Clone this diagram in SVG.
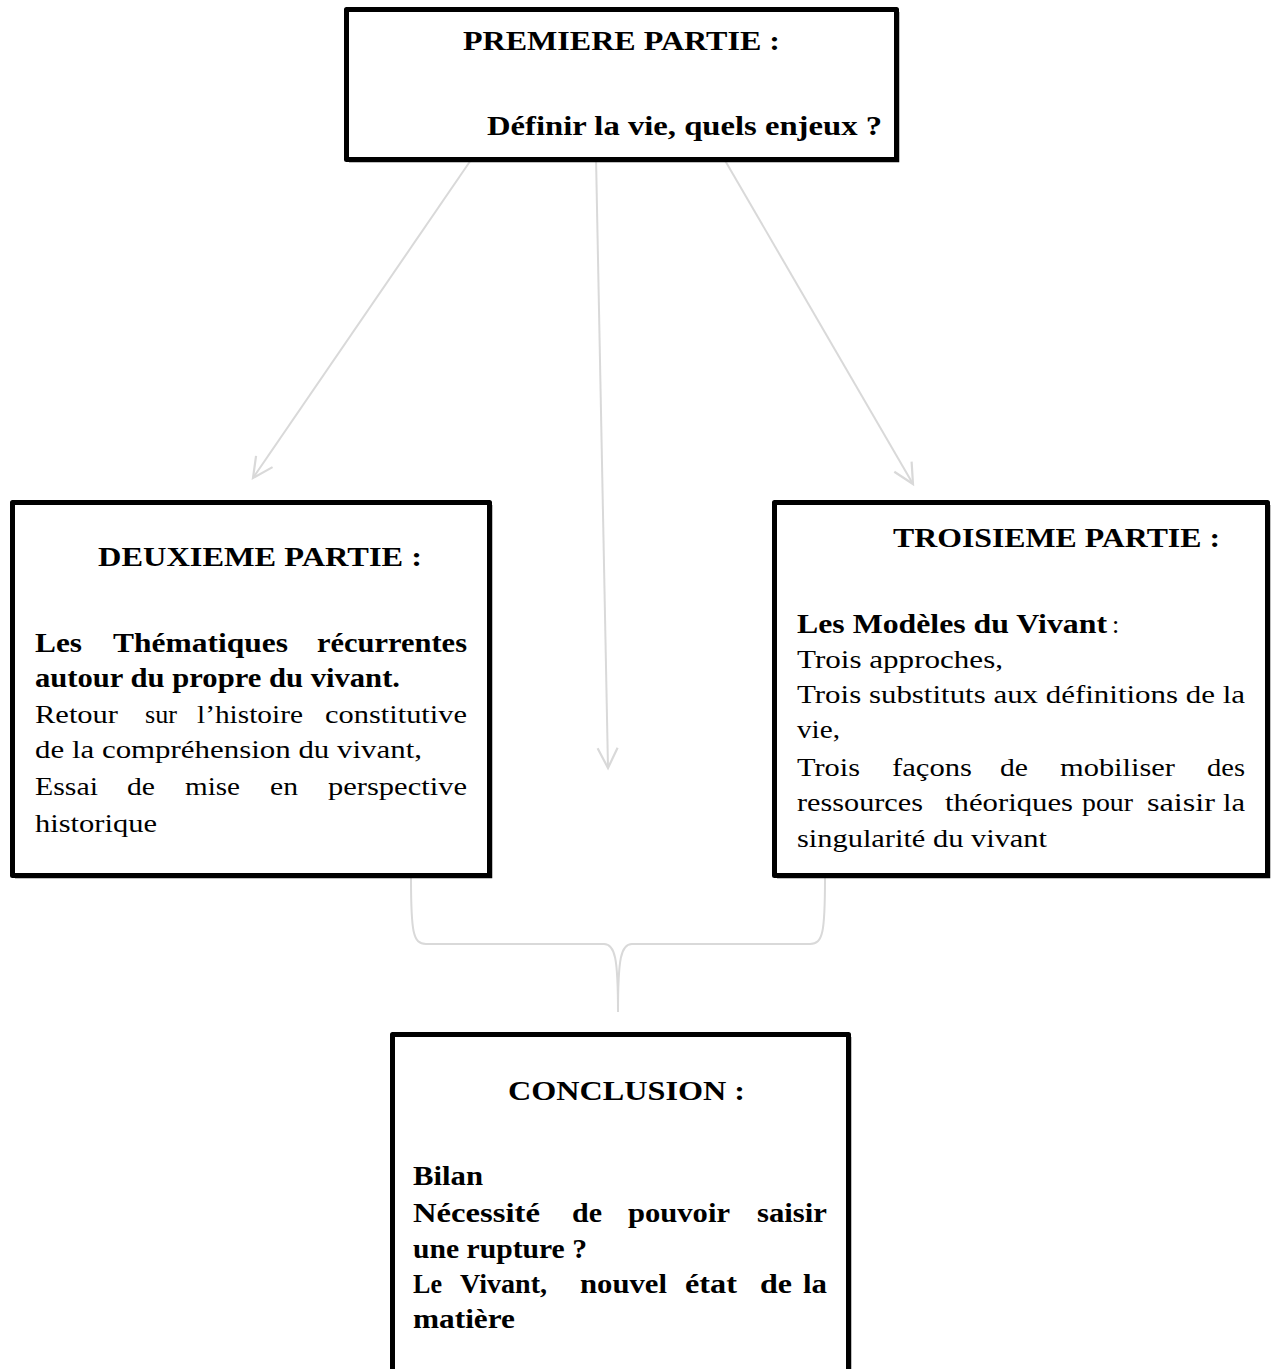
<svg xmlns="http://www.w3.org/2000/svg" width="1275" height="1369" viewBox="0 0 1275 1369">
<style>
.box{fill:#fff;stroke:#000;stroke-width:5;stroke-linejoin:round}
.sh{fill:none;stroke:#000;stroke-width:2.5}
.t{font-family:"Liberation Serif","Times New Roman",serif;fill:#000}
.h{font-size:28px;font-weight:bold}
.b{font-size:27px;font-weight:bold}
.r{font-size:26px}
.c{fill:none;stroke:#d9d9d9;stroke-width:2}
</style>
<defs>
<marker id="arr" markerUnits="userSpaceOnUse" markerWidth="26" markerHeight="26" viewBox="0 0 26 26" refX="23" refY="13" orient="auto">
<path d="M3,3 L23,13 L3,23" fill="none" stroke="#d9d9d9" stroke-width="2.2"/>
</marker>
</defs>
<rect width="1275" height="1369" fill="#fff"/>
<g id="connectors">
<path class="c" d="M473,157 L253,478" marker-end="url(#arr)"/>
<path class="c" d="M596,157 L608,768" marker-end="url(#arr)"/>
<path class="c" d="M723,157 L913,484" marker-end="url(#arr)"/>
<path class="c" d="M411,878 C411,932 413,944 426,944 L604,944 C615,944 618,958 618,1012"/>
<path class="c" d="M825,878 C825,932 823,944 810,944 L632,944 C621,944 618,958 618,1012"/>
</g>
<g id="premiere">
<rect class="box" x="346.5" y="9.5" width="550" height="150"/>
<path class="sh" d="M898,12 L898,161 L349,161"/>
<text class="t h" x="463" y="50" textLength="317" lengthAdjust="spacingAndGlyphs">PREMIERE PARTIE :</text>
<text class="t h" x="487" y="135" textLength="395" lengthAdjust="spacingAndGlyphs">Définir la vie, quels enjeux ?</text>
</g>
<g id="deuxieme">
<rect class="box" x="12.5" y="502.5" width="477" height="373"/>
<path class="sh" d="M491,505 L491,877 L15,877"/>
<text class="t h" x="98" y="566" textLength="324" lengthAdjust="spacingAndGlyphs">DEUXIEME PARTIE :</text>
<text class="t b" x="35" y="652" textLength="47" lengthAdjust="spacingAndGlyphs">Les</text>
<text class="t b" x="113" y="652" textLength="175" lengthAdjust="spacingAndGlyphs">Thématiques</text>
<text class="t b" x="317" y="652" textLength="150" lengthAdjust="spacingAndGlyphs">récurrentes</text>
<text class="t b" x="35" y="687" textLength="365" lengthAdjust="spacingAndGlyphs">autour du propre du vivant.</text>
<text class="t r" x="35" y="723" textLength="83" lengthAdjust="spacingAndGlyphs">Retour</text>
<text class="t r" x="145" y="723" textLength="32" lengthAdjust="spacingAndGlyphs">sur</text>
<text class="t r" x="197" y="723" textLength="106" lengthAdjust="spacingAndGlyphs">l’histoire</text>
<text class="t r" x="325" y="723" textLength="142" lengthAdjust="spacingAndGlyphs">constitutive</text>
<text class="t r" x="35" y="758" textLength="387" lengthAdjust="spacingAndGlyphs">de la compréhension du vivant,</text>
<text class="t r" x="35" y="795" textLength="63" lengthAdjust="spacingAndGlyphs">Essai</text>
<text class="t r" x="127" y="795" textLength="28" lengthAdjust="spacingAndGlyphs">de</text>
<text class="t r" x="185" y="795" textLength="55" lengthAdjust="spacingAndGlyphs">mise</text>
<text class="t r" x="270" y="795" textLength="28" lengthAdjust="spacingAndGlyphs">en</text>
<text class="t r" x="328" y="795" textLength="139" lengthAdjust="spacingAndGlyphs">perspective</text>
<text class="t r" x="35" y="832" textLength="122" lengthAdjust="spacingAndGlyphs">historique</text>
</g>
<g id="troisieme">
<rect class="box" x="774.5" y="502.5" width="493" height="373"/>
<path class="sh" d="M1269,505 L1269,877 L777,877"/>
<text class="t h" x="893" y="547" textLength="327" lengthAdjust="spacingAndGlyphs">TROISIEME PARTIE :</text>
<text class="t b" x="797" y="633" textLength="310" lengthAdjust="spacingAndGlyphs">Les Modèles du Vivant</text>
<text class="t r" x="1112" y="633">:</text>
<text class="t r" x="797" y="668" textLength="206" lengthAdjust="spacingAndGlyphs">Trois approches,</text>
<text class="t r" x="797" y="703" textLength="448" lengthAdjust="spacingAndGlyphs">Trois substituts aux définitions de la</text>
<text class="t r" x="797" y="738" textLength="43" lengthAdjust="spacingAndGlyphs">vie,</text>
<text class="t r" x="797" y="776" textLength="63" lengthAdjust="spacingAndGlyphs">Trois</text>
<text class="t r" x="892" y="776" textLength="80" lengthAdjust="spacingAndGlyphs">façons</text>
<text class="t r" x="1000" y="776" textLength="28" lengthAdjust="spacingAndGlyphs">de</text>
<text class="t r" x="1060" y="776" textLength="115" lengthAdjust="spacingAndGlyphs">mobiliser</text>
<text class="t r" x="1207" y="776" textLength="38" lengthAdjust="spacingAndGlyphs">des</text>
<text class="t r" x="797" y="811" textLength="126" lengthAdjust="spacingAndGlyphs">ressources</text>
<text class="t r" x="945" y="811" textLength="128" lengthAdjust="spacingAndGlyphs">théoriques</text>
<text class="t r" x="1082" y="811" textLength="51" lengthAdjust="spacingAndGlyphs">pour</text>
<text class="t r" x="1147" y="811" textLength="68" lengthAdjust="spacingAndGlyphs">saisir</text>
<text class="t r" x="1223" y="811" textLength="22" lengthAdjust="spacingAndGlyphs">la</text>
<text class="t r" x="797" y="847" textLength="250" lengthAdjust="spacingAndGlyphs">singularité du vivant</text>
</g>
<g id="conclusion">
<rect class="box" x="392.5" y="1034.5" width="456" height="400"/>
<path class="sh" d="M850,1037 L850,1369"/>
<text class="t h" x="508" y="1100" textLength="237" lengthAdjust="spacingAndGlyphs">CONCLUSION :</text>
<text class="t b" x="413" y="1185" textLength="70" lengthAdjust="spacingAndGlyphs">Bilan</text>
<text class="t b" x="413" y="1222" textLength="127" lengthAdjust="spacingAndGlyphs">Nécessité</text>
<text class="t b" x="572" y="1222" textLength="30" lengthAdjust="spacingAndGlyphs">de</text>
<text class="t b" x="628" y="1222" textLength="102" lengthAdjust="spacingAndGlyphs">pouvoir</text>
<text class="t b" x="757" y="1222" textLength="70" lengthAdjust="spacingAndGlyphs">saisir</text>
<text class="t b" x="413" y="1258" textLength="174" lengthAdjust="spacingAndGlyphs">une rupture ?</text>
<text class="t b" x="413" y="1293" textLength="29" lengthAdjust="spacingAndGlyphs">Le</text>
<text class="t b" x="460" y="1293" textLength="87" lengthAdjust="spacingAndGlyphs">Vivant,</text>
<text class="t b" x="580" y="1293" textLength="87" lengthAdjust="spacingAndGlyphs">nouvel</text>
<text class="t b" x="685" y="1293" textLength="52" lengthAdjust="spacingAndGlyphs">état</text>
<text class="t b" x="760" y="1293" textLength="32" lengthAdjust="spacingAndGlyphs">de</text>
<text class="t b" x="803" y="1293" textLength="24" lengthAdjust="spacingAndGlyphs">la</text>
<text class="t b" x="413" y="1328" textLength="102" lengthAdjust="spacingAndGlyphs">matière</text>
</g>
</svg>
